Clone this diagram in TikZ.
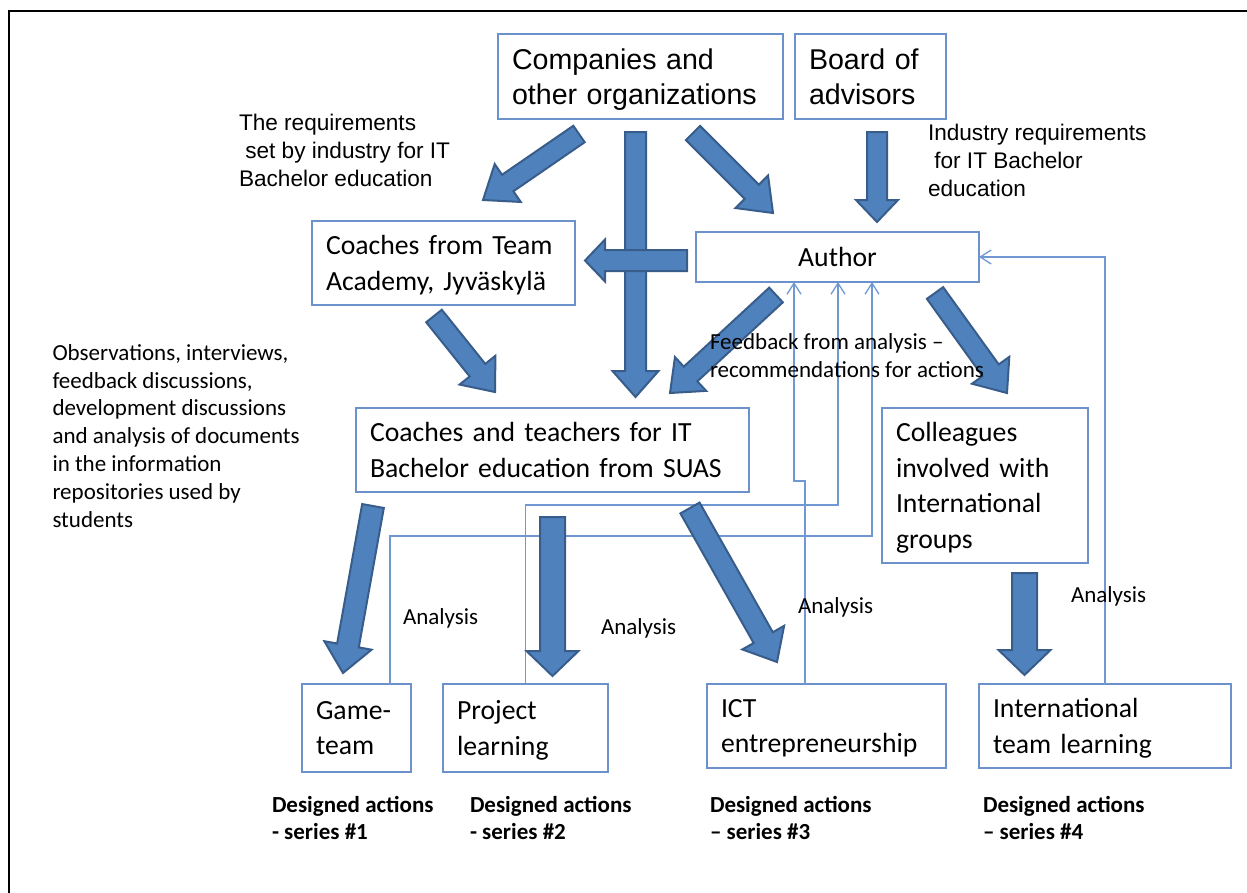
\documentclass[tikz,border=0pt]{standalone}
\usepackage{fontspec}
\setmainfont{Carlito}
\newfontfamily\arialfont{Liberation Sans}
\usetikzlibrary{calc,arrows.meta}
\definecolor{boxline}{RGB}{108,146,204}
\definecolor{fbline}{RGB}{112,152,210}
\definecolor{arrowfill}{RGB}{79,129,189}
\definecolor{arrowline}{RGB}{56,93,138}
\hyphenpenalty=10000
\exhyphenpenalty=10000

\begin{document}
\begin{tikzpicture}[x=1pt,y=-1pt,inner sep=0pt,outer sep=0pt,
box/.style={draw=boxline,line width=1.3pt,rectangle,align=left,inner xsep=14pt,inner ysep=0pt,text depth=35.5pt,
  font=\fontsize{27.7}{35.5}\selectfont},
arialbox/.style={box,text depth=35pt,font=\arialfont\fontsize{28.6}{35}\selectfont},
note/.style={align=left,anchor=base west,font=\fontsize{23}{27.8}\selectfont},
arialnote/.style={align=left,anchor=base west,font=\arialfont\fontsize{22.6}{28}\selectfont},
series/.style={align=left,anchor=base west,font=\bfseries\fontsize{23}{27}\selectfont},
fb/.style={draw=fbline,line width=1.3pt,-{Straight Barb[length=11pt,width=14pt]}},
fatarrow/.style n args={3}{draw=arrowline,fill=arrowfill,line width=2pt,line join=miter,
  to path={($(\tikztostart)!#1pt!90:(\tikztotarget)$)
    -- ($(\tikztotarget)!#3pt!(\tikztostart)!#1pt!90:(\tikztotarget)$)
    -- ($(\tikztotarget)!#3pt!(\tikztostart)!#2pt!90:(\tikztotarget)$)
    -- (\tikztotarget)
    -- ($(\tikztotarget)!#3pt!(\tikztostart)!#2pt!-90:(\tikztotarget)$)
    -- ($(\tikztotarget)!#3pt!(\tikztostart)!#1pt!-90:(\tikztotarget)$)
    -- ($(\tikztostart)!#1pt!-90:(\tikztotarget)$) -- cycle}}]

\useasboundingbox (0,0) rectangle (1247,892);
\draw[line width=2pt] (9,900) -- (9,11) -- (1260,11);

\draw (640.5,76.5) node[arialbox,text width=257pt,minimum height=85pt] (comp) {Companies and\\other organizations};
\draw (870.5,76.5) node[arialbox,text width=123pt,minimum height=85pt] (board) {Board of\\advisors};
\draw (443.5,263) node[box,text width=235pt,minimum height=84pt] (coachT) {Coaches from Team\\Academy, Jyväskylä};
\draw (837.5,257) node[box,align=center,text depth=0pt,inner xsep=0pt,minimum width=283pt,minimum height=50pt] (author) {Author};
\draw (552.5,450) node[box,text width=365pt,minimum height=84pt] (coachS) {Coaches and teachers for IT\\Bachelor education from SUAS};
\draw (985,485.5) node[box,text depth=106.5pt,text width=178pt,minimum height=155pt] (coll) {Colleagues\\involved with\\International\\groups};
\draw (356.5,728) node[box,text width=81pt,minimum height=88pt] (game) {Game-\\team};
\draw (525.5,728) node[box,text width=137pt,minimum height=88pt] (proj) {Project\\learning};
\draw (826.5,726) node[box,text width=211pt,minimum height=84pt] (ict) {ICT\\entrepreneurship};
\draw (1105,726) node[box,text width=224pt,minimum height=84pt] (intl) {International\\team learning};

\draw[fb] ([xshift=33.5]game.north) -- ++(0,-148) -| ([xshift=34.5]author.south);
\draw[fb] (proj.north) -- ++(0,-179) -| ([xshift=0.5]author.south);
\draw[fb] ([xshift=-21.5]ict.north) -- ++(0,-203) -| ([xshift=-43.5]author.south);
\draw[fb] (intl.north) |- (author.east);

\draw[fatarrow={10}{23}{30}] ([shift={(-61.5,15)}]comp.south) to ([shift={(39.5,-21)}]coachT.north);
\draw[fatarrow={10.5}{23}{26}] ([shift={(-5,13)}]comp.south) to ([shift={(83,-11)}]coachS.north);
\draw[fatarrow={10}{23}{30}] ([shift={(52.5,14)}]comp.south) to ([shift={(-64.5,-19)}]author.north);
\draw[fatarrow={10}{21}{22}] ([shift={(6.5,13)}]board.south) to ([shift={(39.5,-10)}]author.north);
\draw[fatarrow={10.5}{21}{20}] ([shift={(-9,3.5)}]author.west) to ([shift={(10,-2.5)}]coachT.east);
\draw[fatarrow={10}{23}{28}] ([shift={(-9.5,11)}]coachT.south) to ([shift={(-57.5,-16)}]coachS.north);
\draw[fatarrow={10}{23}{28}] ([shift={(-61.5,13)}]author.south) to ([shift={(117.5,-15)}]coachS.north);
\draw[fatarrow={10}{23}{28}] ([shift={(97.5,11)}]author.south) to ([shift={(22,-15)}]coll.north);
\draw[fatarrow={11}{24}{28}] ([shift={(-179.5,14)}]coachS.south) to ([shift={(-13.5,-11)}]game.north);
\draw[fatarrow={12.5}{26}{25}] ([shift={(0,25)}]coachS.south) to ([shift={(27,-8)}]proj.north);
\draw[fatarrow={11}{24}{28}] ([shift={(137.5,16)}]coachS.south) to ([shift={(-49.5,-22)}]ict.north);
\draw[fatarrow={12.5}{26}{25}] ([shift={(39.5,10)}]coll.south) to ([shift={(-80.5,-9)}]intl.north);

\node[arialnote] (reqtxt) at (239,186) {The requirements\\\hspace*{0.28em}set by industry for IT\\Bachelor education};
\node[arialnote] (indtxt) at (928,196) {Industry requirements\\\hspace*{0.28em}for IT Bachelor\\education};
\node[note] (obstxt) at (52.5,527) {Observations, interviews,\\feedback discussions,\\development discussions\\and analysis of documents\\in the information\\repositories used by\\students};
\node[note] (fbtxt) at (710,377) {Feedback from analysis --\\recommendations for actions};
\node[note] (an1) at (403,624) {Analysis};
\node[note] (an2) at (601,634) {Analysis};
\node[note] (an3) at (798,613) {Analysis};
\node[note] (an4) at (1071,602) {Analysis};
\node[series] (ser1) at (272,839) {Designed actions\\- series \#1};
\node[series] (ser2) at (470,839) {Designed actions\\- series \#2};
\node[series] (ser3) at (710,839) {Designed actions\\-- series \#3};
\node[series] (ser4) at (983,839) {Designed actions\\-- series \#4};
\end{tikzpicture}
\end{document}
